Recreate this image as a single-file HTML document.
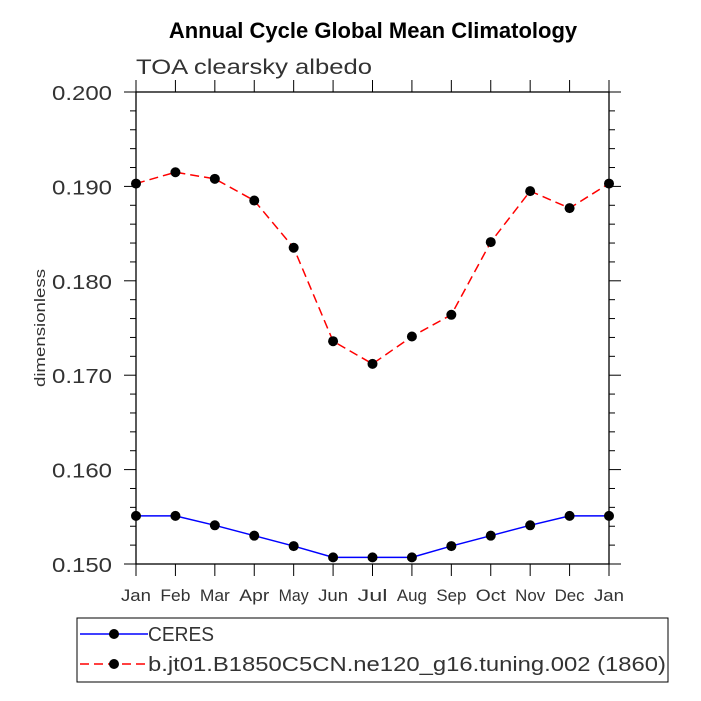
<!DOCTYPE html>
<html><head><meta charset="utf-8"><style>body{margin:0;background:#fff}svg{display:block}</style></head>
<body>
<svg width="701" height="701" xmlns="http://www.w3.org/2000/svg" font-family="Liberation Sans, sans-serif">
<text x="373" y="38" text-anchor="middle" font-weight="bold" font-size="22">Annual Cycle Global Mean Climatology</text>
<text x="136" y="74" font-size="21" fill="#333" textLength="236" lengthAdjust="spacingAndGlyphs">TOA clearsky albedo</text>
<text transform="translate(45,328) rotate(-90)" text-anchor="middle" font-size="15" fill="#333" textLength="118" lengthAdjust="spacingAndGlyphs">dimensionless</text>
<g id="axes"></g>
<g id="series"></g>
<rect x="77" y="618" width="591" height="64" fill="none" stroke="#000" stroke-width="1"/>
<line x1="80" y1="634" x2="148" y2="634" stroke="#00f" stroke-width="1.5"/>
<circle cx="114" cy="634" r="5" fill="#000"/>
<text x="148" y="641" font-size="20" fill="#333" textLength="66" lengthAdjust="spacingAndGlyphs">CERES</text>
<line x1="80" y1="664" x2="148" y2="664" stroke="#f00" stroke-width="1.5" stroke-dasharray="9,5"/>
<circle cx="114" cy="664" r="5" fill="#000"/>
<text x="148" y="671" font-size="20" fill="#333" textLength="518" lengthAdjust="spacingAndGlyphs">b.jt01.B1850C5CN.ne120_g16.tuning.002 (1860)</text>
</svg>
<script>
const months=["Jan","Feb","Mar","Apr","May","Jun","Jul","Aug","Sep","Oct","Nov","Dec","Jan"];
const ceres=[0.1551,0.1551,0.1541,0.1530,0.1519,0.1507,0.1507,0.1507,0.1519,0.1530,0.1541,0.1551,0.1551];
const model=[0.1903,0.1915,0.1908,0.1885,0.1835,0.1736,0.1712,0.1741,0.1764,0.1841,0.1895,0.1877,0.1903];
const yTicks=[0.150,0.160,0.170,0.180,0.190,0.200];
const yTickLabels=["0.150","0.160","0.170","0.180","0.190","0.200"];
const X0=136,X1=609,Y0=564,Y1=92,YMIN=0.150,YMAX=0.200;
const NS="http://www.w3.org/2000/svg";
function xs(i){return X0+(X1-X0)*i/(months.length-1);}
function ys(v){return Y0-(v-YMIN)/(YMAX-YMIN)*(Y0-Y1);}
function mk(t,a,p){const e=document.createElementNS(NS,t);for(const k in a)e.setAttribute(k,a[k]);p.appendChild(e);return e;}
const ax=document.getElementById('axes');
const fr=mk('rect',{x:X0,y:Y1,width:X1-X0,height:Y0-Y1,fill:'none',stroke:'#000','stroke-width':1.3},ax);


months.forEach((m,i)=>{const x=xs(i);
mk('line',{x1:x,y1:Y0,x2:x,y2:Y0+12,stroke:'#000'},ax);
mk('line',{x1:x,y1:Y1,x2:x,y2:Y1-12,stroke:'#000'},ax);
const w=m.length*10;
const t=mk('text',{x:x-w/2,y:Y0+37,'font-size':17,fill:'#333',textLength:w,lengthAdjust:'spacingAndGlyphs'},ax);t.textContent=m;

});
for(let v=YMIN;v<=YMAX+1e-9;v+=0.002){const y=ys(v);const maj=Math.abs(Math.round(v*100)-v*100)<1e-6;const L=maj?12:6;
mk('line',{x1:X0,y1:y,x2:X0-L,y2:y,stroke:'#000'},ax);
mk('line',{x1:X1,y1:y,x2:X1+L,y2:y,stroke:'#000'},ax);}
yTicks.forEach((v,i)=>{const t=mk('text',{x:52,y:ys(v)+8,'font-size':20,fill:'#333',textLength:60,lengthAdjust:'spacingAndGlyphs'},ax);t.textContent=yTickLabels[i];

});
const sg=document.getElementById('series');
function series(d,col,dash,name){const p=mk('polyline',{points:d.map((v,i)=>xs(i)+','+ys(v)).join(' '),fill:'none',stroke:col,'stroke-width':1.5,'stroke-dasharray':dash},sg);


d.forEach((v,i)=>{const c=mk('circle',{cx:xs(i),cy:ys(v),r:5,fill:'#000'},sg);

});}
series(ceres,'#00f','none','ceres');
series(model,'#f00','9,5','model');
</script>
</body></html>
